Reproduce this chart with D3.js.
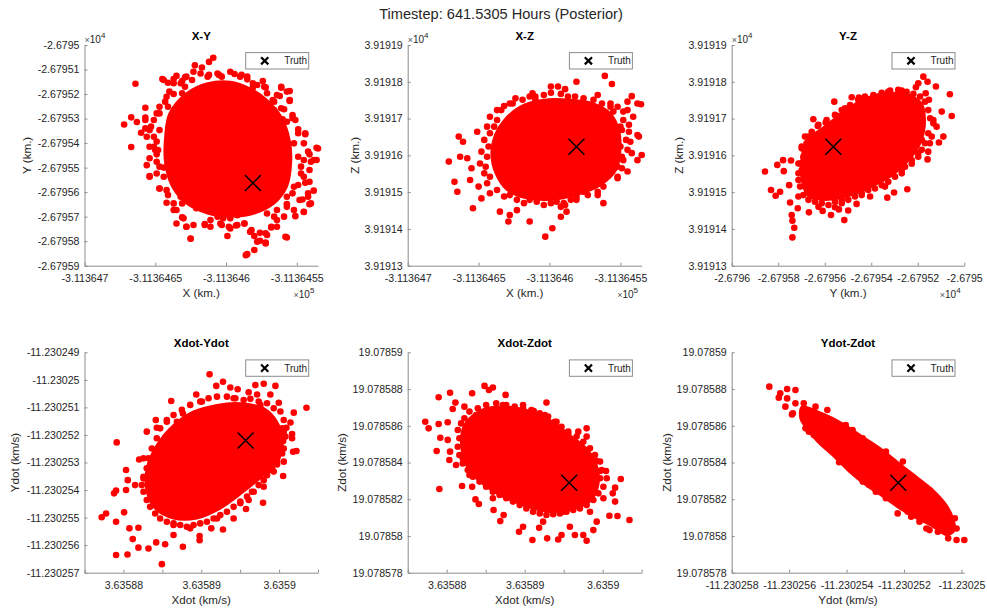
<!DOCTYPE html>
<html>
<head>
<meta charset="utf-8">
<script src="https://cdn.jsdelivr.net/npm/d3@7"></script>
<style>
  body { margin: 0; background: #fff; }
  svg { display: block; }
</style>
</head>
<body>
<svg id="chart" width="987" height="613"></svg>
<script>
// ---------------------------------------------------------------------------
// Posterior particle cloud at t = 641.5305 h, projected onto six state planes.
// Samples are stored as deviations from a reference state:
//   positions in metres, velocities in mm/s.
// ---------------------------------------------------------------------------
const X0 = -311364.7, Y0 = -26796, Z0 = 39191.3;          // km
const VX0 = 3.63588, VY0 = -11.23026, VZ0 = 19.07858;    // km/s

// Truth state (same deviation units)
const truthPos = [119, 437, 323.5];      // dX, dY, dZ  (m)
const truthVel = [15.7, 7.8, 2.9];       // dXdot, dYdot, dZdot (mm/s)

// X-Y samples [dX, dY] (m) and the outline of the dense core
const xySamples = [[91,948],[88,931],[83,908],[78,917],[77,891],[71,868],[63,861],[55,861],[59,846],[36,842],[69,853],[76,857],[103,891],[111,878],[115,860],[126,853],[128,827],[119,827],[139,826],[145,812],[138,792],[145,772],[134,769],[141,738],[147,701],[140,697],[28,676],[33,705],[37,686],[43,744],[43,704],[40,642],[33,584],[49,626],[46,585],[51,554],[44,510],[46,466],[53,415],[56,500],[151,656],[156,636],[164,581],[164,531],[159,554],[160,524],[162,406],[153,476],[156,438],[158,395],[154,370],[159,351],[155,319],[149,302],[143,351],[143,215],[136,286],[132,256],[128,232],[128,191],[124,202],[120,221],[118,245],[114,143],[113,272],[107,264],[108,306],[101,221],[103,252],[97,266],[98,293],[89,259],[85,270],[75,210],[72,259],[65,272],[69,297],[63,327],[58,357],[59,388],[51,476],[52,572],[53,653],[47,667],[53,721],[59,748],[63,800],[69,803],[87,871],[95,878],[120,796],[129,748],[148,599],[151,544],[148,422],[143,381],[129,313],[110,327],[94,313],[79,334],[69,354],
  [72,871],[65,874],[68,844],[71,830],[82,884],[88,878],[94,884],[97,871],[106,882],[110,871],[115,871],[119,844],[122,837],[127,830],[129,803],[136,796],[139,830],[143,810],[145,776],[133,776],[134,735],[139,742],[147,714],[149,694],[143,687],[141,653],[151,640],[156,640],[155,599],[158,565],[165,578],[162,531],[155,531],[159,490],[153,504],[155,463],[151,429],[159,442],[147,395],[158,381],[160,354],[152,368],[155,320],[148,327],[143,340],[141,300],[136,327],[134,300],[132,259],[136,259],[142,218],[129,225],[128,194],[122,198],[120,164],[115,147],[124,234],[117,238],[113,272],[108,266],[103,293],[96,272],[102,259],[94,300],[89,286],[85,266],[77,266],[75,211],[72,259],[70,293],[65,327],[63,354],[68,381],[58,408],[53,415],[63,436],[56,463],[46,463],[53,504],[51,524],[46,538],[50,572],[49,585],[51,606],[44,626],[43,660],[46,653],[43,694],[49,694],[51,721],[53,748],[57,769],[58,789],[60,810],[63,844],[56,857]];
const xyCore = [[72,803],[87,844],[103,850],[117,823],[129,776],[139,708],[145,612],[146,517],[143,422],[134,354],[120,313],[103,300],[87,313],[72,354],[62,422],[57,517],[57,626],[60,721]];

// X-Z samples [dX, dZ] (m)
const xzSamples = [[139,516],[144,494],[119,500],[101,487],[106,487],[111,480],[134,464],[158,461],[155,446],[143,441],[162,441],[145,419],[155,423],[159,405],[156,383],[151,369],[162,355],[157,337],[158,306],[151,296],[162,287],[155,256],[148,238],[138,170],[134,192],[127,192],[119,179],[111,165],[108,160],[112,147],[108,133],[102,102],[97,79],[86,120],[77,151],[72,138],[71,120],[65,147],[46,156],[52,183],[50,215],[44,233],[33,228],[35,201],[29,283],[37,296],[36,351],[39,337],[49,364],[42,292],[45,265],[58,405],[66,423],[72,441],[76,455],[88,469],[90,460],[164.5,439],[163,351],[165,301],
  [63,423],[68,434],[74,441],[81,451],[86,460],[90,451],[96,464],[101,470],[108,467],[113,460],[118,460],[124,455],[131,451],[137,441],[143,432],[148,432],[152,419],[152,396],[150,378],[156,364],[154,342],[150,324],[155,315],[152,287],[148,269],[151,265],[148,242],[143,251],[138,215],[134,201],[129,215],[124,201],[119,188],[115,179],[110,170],[105,174],[101,170],[96,165],[91,174],[86,179],[82,170],[77,179],[72,192],[68,188],[63,206],[58,197],[56,224],[58,242],[54,251],[55,269],[51,278],[56,296],[52,310],[57,324],[54,342],[58,360],[61,378],[63,396],[56,378]];
const xzCore = [[68,396],[79,432],[96,451],[115,451],[131,441],[143,414],[149,369],[150,315],[147,260],[136,219],[119,192],[101,179],[84,183],[70,206],[62,251],[59,306],[62,360]];

// Y-Z samples [dY, dZ] (m)
const yzSamples = [[824,514],[802,496],[842,500],[878,487],[792,485],[834,469],[848,451],[938,466],[946,407],[903,419],[867,396],[881,378],[910,351],[891,335],[852,333],[845,310],[842,289],[802,296],[774,277],[755,208],[698,199],[669,185],[595,188],[537,168],[501,150],[484,124],[444,159],[427,138],[461,153],[391,149],[373,160],[332,145],[284,156],[258,138],[261,122],[269,103],[261,77],[251,172],[208,201],[189,190],[169,206],[247,219],[143,256],[196,274],[221,287],[255,286],[224,257],[287,251],[294,278],[327,298],[351,398],[370,380],[404,389],[441,446],[459,407],[516,458],[547,457],[566,441],[301,324],[330,351],[487,428],[616,460],[673,473],[731,476],[759,460],[817,378],[817,342],[788,324],[731,251],[659,215],[559,197],[473,179],[358,188],[315,215],[287,188],
  [315,351],[344,364],[373,383],[408,396],[444,410],[473,423],[509,437],[544,451],[573,460],[609,464],[645,470],[681,476],[716,478],[752,473],[781,467],[810,460],[831,446],[845,423],[853,401],[867,387],[845,360],[860,351],[831,333],[817,315],[802,306],[774,287],[745,269],[731,260],[702,242],[673,228],[645,219],[616,210],[587,206],[559,192],[530,188],[501,179],[473,170],[444,174],[416,165],[387,170],[358,174],[330,179],[308,192],[294,215],[287,233],[301,260],[287,278],[308,296],[301,319],[322,333]];
const yzCore = [[322,342],[387,373],[473,414],[559,451],[659,469],[759,464],[817,441],[831,396],[817,342],[774,296],[702,251],[616,219],[516,192],[416,179],[330,188],[301,233],[301,296]];

// Xdot-Ydot samples [dXdot, dYdot] (mm/s)
const vxvySamples = [[11.07,10.20],[12.79,9.93],[11.93,9.78],[13.73,9.72],[14.68,9.66],[16.95,9.81],[18.03,9.86],[19.53,9.78],[16.09,9.55],[17.17,9.47],[18.88,9.47],[19.96,9.17],[23.52,8.99],[21.89,8.81],[21.46,8.45],[20.94,8.26],[21.67,8.03],[21.67,7.88],[20.52,7.78],[22.23,7.42],[21.80,7.39],[20.60,7.51],[19.83,7.21],[19.74,6.93],[20.52,6.51],[18.80,6.73],[18.03,6.12],[17.94,5.54],[16.09,5.64],[15.75,5.31],[15.02,5.52],[12.79,4.57],[11.29,4.61],[9.79,4.33],[9.79,4.18],[7.64,3.94],[6.44,4.37],[5.36,4.03],[4.94,3.31],[4.21,4.10],[3.22,3.88],[1.93,3.91],[0.52,3.66],[-0.94,3.64],[1.20,4.22],[1.93,4.63],[0.77,4.61],[-0.94,4.85],[0.09,5.19],[-2.23,5.15],[-2.79,5.01],[-1.20,5.88],[-0.94,5.98],[0.34,6.00],[0.34,6.73],[0.56,6.36],[1.50,6.18],[2.02,7.11],[3.00,8.12],[4.29,8.26],[4.16,8.54],[-0.86,7.73],[6.14,9.23],[5.58,8.54],[6.87,8.48],[7.64,8.78],[9.36,9.47],[10.09,9.21],[2.58,7.15],[2.58,6.42],[3.86,5.46],[6.44,4.73],[8.58,4.61],[12.02,4.97],[14.16,4.97],[16.74,5.94],[19.31,6.67],[20.60,7.03],[17.60,9.09],[14.16,9.33],[20.60,8.12],
  [4.29,7.88],[4.72,8.24],[5.58,8.48],[6.44,8.72],[7.51,8.91],[8.58,9.09],[9.87,9.21],[10.94,9.33],[12.02,9.39],[13.30,9.39],[14.38,9.33],[15.45,9.27],[16.31,9.31],[17.38,9.21],[18.45,9.15],[19.31,8.97],[20.17,8.85],[20.60,8.54],[20.39,8.24],[20.82,7.94],[20.17,7.63],[20.39,7.33],[19.74,7.03],[19.10,6.79],[18.45,6.54],[18.03,6.36],[17.38,6.18],[16.52,5.94],[15.88,5.76],[15.02,5.58],[14.16,5.39],[13.30,5.21],[12.45,5.09],[11.59,4.97],[10.73,4.85],[9.87,4.79],[9.01,4.73],[8.15,4.67],[7.30,4.73],[6.44,4.79],[5.58,4.85],[4.72,4.97],[4.08,5.15],[3.43,5.39],[3.00,5.64],[2.58,5.94],[2.36,6.18],[2.58,6.48],[3.00,6.79],[3.22,7.15],[3.65,7.51]];
const vxvyCore = [[4.29,7.63],[6.44,8.36],[9.01,8.85],[12.02,9.09],[15.02,9.15],[18.03,8.97],[19.74,8.48],[20.39,7.88],[19.74,7.15],[18.03,6.54],[15.45,5.94],[12.45,5.33],[9.44,4.97],[6.44,4.97],[4.08,5.33],[3.00,5.94],[3.00,6.79]];

// Xdot-Zdot samples [dXdot, dZdot] (mm/s)
const vxvzSamples = [[4.85,8.17],[5.41,7.95],[5.92,8.08],[7.55,7.68],[3.26,7.77],[0.43,7.80],[-1.03,7.55],[1.12,7.26],[2.27,7.04],[0.77,6.91],[12.79,7.26],[9.70,6.71],[11.16,6.80],[12.58,6.59],[-2.75,6.22],[-2.32,5.86],[-1.03,6.10],[0.13,6.19],[-0.82,5.35],[0.13,5.23],[-1.29,4.63],[0.43,4.59],[0.34,4.14],[1.20,3.86],[-0.94,2.56],[1.97,2.72],[3.26,2.68],[3.69,1.99],[4.12,1.74],[6.01,1.41],[6.87,0.81],[7.30,1.14],[9.27,0.23],[9.79,0.50],[10.99,-0.22],[11.85,0.45],[12.88,-0.13],[14.29,-0.19],[14.72,0.05],[15.79,0.50],[16.44,0.05],[17.51,0.05],[17.94,-0.26],[19.23,0.78],[18.80,0.32],[20.86,1.10],[21.89,1.09],[23.43,0.87],[21.59,1.87],[22.32,3.10],[21.59,2.63],[21.29,2.32],[20.52,3.14],[20.43,3.54],[19.23,4.08],[17.94,5.41],[16.87,5.68],[15.58,5.59],[17.94,5.86],[15.79,5.13],[19.66,3.54],[20.09,2.05],[18.37,1.32],[14.94,1.32],[12.36,0.78],[5.92,2.05],[2.92,3.32],[2.06,4.23],[1.85,5.32],[3.78,6.59],[7.21,7.13],[9.79,7.13],[14.08,6.22],[4.42,5.32],
  [2.27,6.41],[2.92,6.77],[3.99,6.95],[5.06,7.13],[6.35,7.22],[7.64,7.13],[8.71,7.04],[9.79,6.95],[10.86,6.86],[11.93,6.68],[13.00,6.50],[13.86,6.22],[14.72,5.95],[15.58,5.68],[16.65,5.41],[17.51,5.13],[18.37,4.77],[19.01,4.41],[19.66,4.05],[19.87,3.59],[19.66,3.14],[20.09,2.68],[19.44,2.32],[18.80,1.96],[17.94,1.68],[17.08,1.50],[16.22,1.41],[15.36,1.32],[14.51,1.23],[13.65,1.18],[12.79,1.14],[11.93,1.23],[11.07,1.32],[10.21,1.50],[9.36,1.68],[8.50,1.87],[7.64,2.05],[6.78,2.23],[5.92,2.41],[5.06,2.68],[4.21,2.96],[3.35,3.23],[2.70,3.59],[2.06,3.95],[1.63,4.41],[1.42,4.86],[1.63,5.32],[1.42,5.77],[1.85,6.13]];
const vxvzCore = [[2.92,6.41],[5.06,6.95],[8.07,7.04],[11.07,6.77],[13.65,6.22],[15.79,5.50],[17.94,4.77],[19.23,3.86],[19.44,2.77],[18.37,1.87],[15.79,1.41],[12.79,1.32],[9.79,1.68],[6.78,2.23],[4.21,2.96],[2.49,3.86],[1.85,4.95],[2.06,5.86]];

// Ydot-Zdot samples [dYdot, dZdot] (mm/s)
const vyvzSamples = [[3.31,8.13],[3.69,7.77],[3.93,8.00],[4.22,7.95],[3.64,7.53],[3.93,7.49],[3.87,7.04],[4.22,7.22],[4.51,7.22],[4.92,7.04],[5.33,6.86],[4.10,6.62],[4.57,5.86],[4.69,5.68],[5.74,4.01],[5.97,6.04],[6.21,5.77],[6.56,2.96],[6.79,2.77],[7.02,2.41],[7.37,2.05],[7.72,1.90],[7.78,1.23],[8.13,1.32],[8.25,1.05],[8.51,2.92],[8.89,2.50],[8.54,0.78],[8.78,0.41],[9.13,0.60],[9.30,1.32],[9.59,0.78],[9.77,0.96],[9.83,0.41],[9.54,-0.13],[9.83,-0.22],[10.1,-0.22],[9.18,0.23],[8.89,0.32],[8.31,1.59],[8.02,2.14],[8.66,1.87],[5.56,4.86],[5.15,5.23],[4.86,5.50],
  [4.13,6.68],[4.63,6.41],[5.27,6.22],[5.50,4.95],[7.02,3.68],[7.96,4.05],[7.49,3.50],[6.56,5.32],[7.37,4.59]];
const vyvzCore = [[4.45,7.04],[5.15,6.68],[5.86,6.13],[6.56,5.41],[7.26,4.68],[7.84,3.95],[8.43,3.23],[9.01,2.50],[9.48,1.68],[9.71,0.96],[9.77,0.32],[9.48,0.05],[9.01,0.50],[8.43,0.96],[7.84,1.50],[7.26,2.14],[6.67,2.77],[6.09,3.50],[5.50,4.41],[5.04,5.04],[4.69,5.68],[4.39,6.41]];

// Axis limits, ticks and tick labels
const xLim = [-311364.7, -311364.535];
const xTicks = [-311364.7, -311364.65, -311364.6, -311364.55];
const xTickLabels = ["-3.113647", "-3.1136465", "-3.113646", "-3.1136455"];

const yLimA = [-26795.9, -26795.0];
const yTicksA = [-26795.9, -26795.8, -26795.7, -26795.6, -26795.5, -26795.4, -26795.3, -26795.2, -26795.1, -26795.0];
const yTickLabelsA = ["-2.67959", "-2.67958", "-2.67957", "-2.67956", "-2.67955", "-2.67954", "-2.67953", "-2.67952", "-2.67951", "-2.6795"];

const yLimB = [-26796, -26795];
const yTicksB = [-26796, -26795.8, -26795.6, -26795.4, -26795.2, -26795];
const yTickLabelsB = ["-2.6796", "-2.67958", "-2.67956", "-2.67954", "-2.67952", "-2.6795"];

const zLim = [39191.3, 39191.9];
const zTicks = [39191.3, 39191.4, 39191.5, 39191.6, 39191.7, 39191.8, 39191.9];
const zTickLabels = ["3.91913", "3.91914", "3.91915", "3.91916", "3.91917", "3.91918", "3.91919"];

const vxLim = [3.635875, 3.635905];
const vxTicks = [3.635875, 3.63588, 3.635885, 3.63589, 3.635895, 3.6359, 3.635905];
const vxTickLabels = ["", "3.63588", "", "3.63589", "", "3.6359", ""];

const vyLimA = [-11.230257, -11.230249];
const vyTicksA = [-11.230257, -11.230256, -11.230255, -11.230254, -11.230253, -11.230252, -11.230251, -11.23025, -11.230249];
const vyTickLabelsA = ["-11.230257", "-11.230256", "-11.230255", "-11.230254", "-11.230253", "-11.230252", "-11.230251", "-11.23025", "-11.230249"];

const vyLimB = [-11.230258, -11.2302499];
const vyTicksB = [-11.230258, -11.230256, -11.230254, -11.230252, -11.23025];
const vyTickLabelsB = ["-11.230258", "-11.230256", "-11.230254", "-11.230252", "-11.23025"];

const vzLim = [19.078578, 19.07859];
const vzTicks = [19.078578, 19.07858, 19.078582, 19.078584, 19.078586, 19.078588, 19.07859];
const vzTickLabels = ["19.078578", "19.07858", "19.078582", "19.078584", "19.078586", "19.078588", "19.07859"];

// Unit conversions from stored deviations to plotted values
const posX = d => X0 + d / 1000, posY = d => Y0 + d / 1000, posZ = d => Z0 + d / 1000;
const velX = d => VX0 + d * 1e-6, velY = d => VY0 + d * 1e-6, velZ = d => VZ0 + d * 1e-6;

// ---------------------------------------------------------------------------
// Layout
// ---------------------------------------------------------------------------
const FONT = '"Liberation Sans", Arial, Helvetica, sans-serif';
const TEXT = "#262626";
const AXIS = "#8c8c8c";
const RED = "#ff0000";

const cols = [{ left: 84.5, right: 318 }, { left: 407.7, right: 641.7 }, { left: 731.7, right: 964.3 }];
const rows = [{ top: 45, bottom: 265.7 }, { top: 352.3, bottom: 572.7 }];

const panels = [
  { title: "X-Y", col: 0, row: 0, xLabel: "X (km.)", yLabel: "Y (km.)", xExp: "5", yExp: "4", yLabOff: 54,
    xLim, xTicks, xTickLabels, yLim: yLimA, yTicks: yTicksA, yTickLabels: yTickLabelsA,
    samples: xySamples, core: xyCore, fx: posX, fy: posY, truth: [truthPos[0], truthPos[1]] },
  { title: "X-Z", col: 1, row: 0, xLabel: "X (km.)", yLabel: "Z (km.)", xExp: "5", yExp: "4", yLabOff: 48.7,
    xLim, xTicks, xTickLabels, yLim: zLim, yTicks: zTicks, yTickLabels: zTickLabels,
    samples: xzSamples, core: xzCore, fx: posX, fy: posZ, truth: [truthPos[0], truthPos[2]] },
  { title: "Y-Z", col: 2, row: 0, xLabel: "Y (km.)", yLabel: "Z (km.)", xExp: "4", yExp: "4", yLabOff: 48.7,
    xLim: yLimB, xTicks: yTicksB, xTickLabels: yTickLabelsB, yLim: zLim, yTicks: zTicks, yTickLabels: zTickLabels,
    samples: yzSamples, core: yzCore, fx: posY, fy: posZ, truth: [truthPos[1], truthPos[2]] },
  { title: "Xdot-Ydot", col: 0, row: 1, xLabel: "Xdot (km/s)", yLabel: "Ydot (km/s)", yLabOff: 66,
    xLim: vxLim, xTicks: vxTicks, xTickLabels: vxTickLabels, yLim: vyLimA, yTicks: vyTicksA, yTickLabels: vyTickLabelsA,
    samples: vxvySamples, core: vxvyCore, fx: velX, fy: velY, truth: [truthVel[0], truthVel[1]] },
  { title: "Xdot-Zdot", col: 1, row: 1, xLabel: "Xdot (km/s)", yLabel: "Zdot (km/s)", yLabOff: 62,
    xLim: vxLim, xTicks: vxTicks, xTickLabels: vxTickLabels, yLim: vzLim, yTicks: vzTicks, yTickLabels: vzTickLabels,
    samples: vxvzSamples, core: vxvzCore, fx: velX, fy: velZ, truth: [truthVel[0], truthVel[2]] },
  { title: "Ydot-Zdot", col: 2, row: 1, xLabel: "Ydot (km/s)", yLabel: "Zdot (km/s)", yLabOff: 61,
    xLim: vyLimB, xTicks: vyTicksB, xTickLabels: vyTickLabelsB, yLim: vzLim, yTicks: vzTicks, yTickLabels: vzTickLabels,
    samples: vyvzSamples, core: vyvzCore, fx: velY, fy: velZ, truth: [truthVel[1], truthVel[2]] }
];

const svg = d3.select("#chart");
svg.append("rect").attr("width", 987).attr("height", 613).attr("fill", "#fff");

// Figure title
svg.append("text")
  .attr("x", 501).attr("y", 18.5)
  .attr("text-anchor", "middle")
  .attr("font-family", FONT).attr("font-size", 14.6).attr("fill", TEXT)
  .text("Timestep: 641.5305 Hours (Posterior)");

function exponentLabel(g, x, y, exp) {
  const t = g.append("text").attr("x", x).attr("y", y)
    .attr("font-family", FONT).attr("font-size", 10).attr("fill", TEXT);
  t.append("tspan").attr("font-size", 9).attr("fill", "#555").text("\u00d7");
  t.append("tspan").text("10");
  t.append("tspan").attr("dy", -5).attr("font-size", 8).text(exp);
}

function drawCross(g, cx, cy, half, width) {
  g.append("path")
    .attr("d", `M${cx - half},${cy - half}L${cx + half},${cy + half}M${cx - half},${cy + half}L${cx + half},${cy - half}`)
    .attr("stroke", "#000").attr("stroke-width", width).attr("fill", "none");
}

panels.forEach(p => {
  const { left, right } = cols[p.col];
  const { top, bottom } = rows[p.row];
  const x = d3.scaleLinear().domain(p.xLim).range([left, right]);
  const y = d3.scaleLinear().domain(p.yLim).range([bottom, top]);
  const g = svg.append("g");

  // dense core of the particle cloud
  const core = d3.line()
    .x(d => x(p.fx(d[0])))
    .y(d => y(p.fy(d[1])))
    .curve(d3.curveCatmullRomClosed.alpha(0.5));
  g.append("path").attr("d", core(p.core))
    .attr("fill", RED).attr("stroke", RED).attr("stroke-width", 2);

  // individual particles
  g.append("g").selectAll("circle").data(p.samples).join("circle")
    .attr("cx", d => x(p.fx(d[0])))
    .attr("cy", d => y(p.fy(d[1])))
    .attr("r", 3.3)
    .attr("fill", RED);

  // truth marker
  drawCross(g, x(p.fx(p.truth[0])), y(p.fy(p.truth[1])), 8, 1.5);

  // axes
  const xAxis = d3.axisBottom(x).tickValues(p.xTicks)
    .tickFormat((d, i) => p.xTickLabels[i])
    .tickSizeInner(-3).tickSizeOuter(0).tickPadding(8.5);
  const yAxis = d3.axisLeft(y).tickValues(p.yTicks)
    .tickFormat((d, i) => p.yTickLabels[i])
    .tickSizeInner(-3).tickSizeOuter(0).tickPadding(5);

  [[xAxis, `translate(0,${bottom})`], [yAxis, `translate(${left},0)`]].forEach(([ax, tr]) => {
    const a = g.append("g").attr("transform", tr).call(ax);
    a.attr("font-family", FONT).attr("font-size", 10.6);
    a.selectAll(".domain, .tick line").attr("stroke", AXIS);
    a.selectAll(".tick text").attr("fill", TEXT);
  });

  // panel title
  g.append("text").attr("x", (left + right) / 2).attr("y", top - 5.3)
    .attr("text-anchor", "middle").attr("font-family", FONT)
    .attr("font-size", 11.5).attr("font-weight", "bold").attr("fill", "#000")
    .text(p.title);

  // axis labels
  g.append("text").attr("x", (left + right) / 2).attr("y", bottom + 30.8)
    .attr("text-anchor", "middle").attr("font-family", FONT)
    .attr("font-size", 11.6).attr("fill", TEXT).text(p.xLabel);
  g.append("text")
    .attr("transform", `translate(${left - p.yLabOff},${(top + bottom) / 2}) rotate(-90)`)
    .attr("text-anchor", "middle").attr("font-family", FONT)
    .attr("font-size", 11.6).attr("fill", TEXT).text(p.yLabel);

  // axis multipliers
  if (p.yExp) exponentLabel(g, left, top - 2.5, p.yExp);
  if (p.xExp) exponentLabel(g, right - 24.5, bottom + 32, p.xExp);

  // legend
  const lw = 63, lh = 16.4;
  const lx = right - 9.3 - lw, ly = top + 7.6;
  g.append("rect").attr("x", lx).attr("y", ly).attr("width", lw).attr("height", lh)
    .attr("fill", "#fff").attr("stroke", AXIS).attr("stroke-width", 1);
  drawCross(g, lx + 19, ly + lh / 2, 3.6, 2.2);
  g.append("text").attr("x", lx + 38.5).attr("y", ly + 11.8)
    .attr("font-family", FONT).attr("font-size", 10).attr("fill", TEXT).text("Truth");
});
</script>
</body>
</html>
